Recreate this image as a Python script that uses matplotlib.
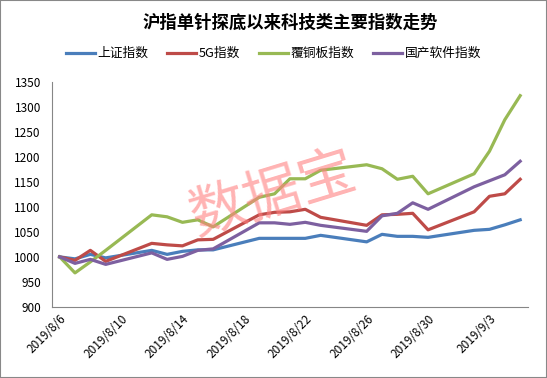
import numpy as np
import pandas as pd
import matplotlib
matplotlib.use('Agg')
import matplotlib.pyplot as plt
import matplotlib.dates as mdates
from matplotlib.patches import Rectangle

plt.rcParams['font.family'] = ['Noto Sans CJK SC', 'DejaVu Sans']

dates = pd.to_datetime([
    '2019-08-06', '2019-08-07', '2019-08-08', '2019-08-09',
    '2019-08-12', '2019-08-13', '2019-08-14', '2019-08-15', '2019-08-16',
    '2019-08-19', '2019-08-20', '2019-08-21', '2019-08-22', '2019-08-23',
    '2019-08-26', '2019-08-27', '2019-08-28', '2019-08-29', '2019-08-30',
    '2019-09-02', '2019-09-03', '2019-09-04', '2019-09-05'])

sh_index = [1000, 996, 1005, 998, 1013, 1005, 1011, 1014, 1014,
            1037, 1037, 1037, 1037, 1043, 1030, 1045, 1041, 1041, 1039,
            1053, 1055, 1064, 1074]
g5_index = [1000, 993, 1013, 991, 1027, 1024, 1022, 1034, 1035,
            1084, 1089, 1090, 1095, 1079, 1063, 1084, 1085, 1087, 1054,
            1090, 1121, 1126, 1155]
ccl_index = [1000, 968, 990, 1013, 1084, 1080, 1069, 1074, 1060,
             1119, 1126, 1156, 1156, 1173, 1184, 1176, 1155, 1161, 1126,
             1166, 1211, 1274, 1322]
soft_index = [1000, 987, 995, 985, 1008, 995, 1001, 1013, 1016,
              1068, 1068, 1065, 1069, 1063, 1051, 1082, 1087, 1108, 1095,
              1140, 1152, 1164, 1191]

series = [
    ('上证指数', sh_index, '#4a7ebb'),
    ('5G指数', g5_index, '#be4b48'),
    ('覆铜板指数', ccl_index, '#98b954'),
    ('国产软件指数', soft_index, '#7d60a0'),
]

fig = plt.figure(figsize=(5.47, 3.78), dpi=100)
ax = fig.add_axes([0.095, 0.188, 0.87, 0.596])

for name, values, color in series:
    ax.plot(dates, values, color=color, lw=2.3, label=name, solid_joinstyle='round')

# watermark
fig.text(0.5, 0.484, '数据宝', fontsize=41, color='#ff8080', alpha=0.6,
         rotation=17, ha='center', va='center')

ax.set_ylim(900, 1350)
ax.set_yticks(np.arange(900, 1351, 50))
ax.set_xlim(mdates.date2num(pd.Timestamp('2019-08-05')) + 0.5,
            mdates.date2num(pd.Timestamp('2019-09-05')) + 0.5)
ticks = pd.date_range('2019-08-06', '2019-09-03', freq='4D')
ax.set_xticks(ticks)
ax.set_xticklabels([f'{d.year}/{d.month}/{d.day}' for d in ticks],
                   rotation=45, ha='right', rotation_mode='anchor')

for s in ['top', 'right']:
    ax.spines[s].set_visible(False)
for s in ['left', 'bottom']:
    ax.spines[s].set_color('#868686')
ax.tick_params(axis='both', length=0, labelsize=8.5, colors='black')
ax.tick_params(axis='y', pad=8)
ax.tick_params(axis='x', pad=4)

ax.set_title('沪指单针探底以来科技类主要指数走势', fontsize=12.5, fontweight='bold', y=1.2)
fig.legend(loc='center', bbox_to_anchor=(0.5, 0.858), ncol=4, frameon=False,
           fontsize=9.2, handlelength=2.25, columnspacing=1.5, handletextpad=0.2)

fig.patches.append(Rectangle((0, 0), 1, 1, transform=fig.transFigure, fill=False,
                             edgecolor='#888888', lw=1.5))

fig.savefig('out.png', dpi=100)
